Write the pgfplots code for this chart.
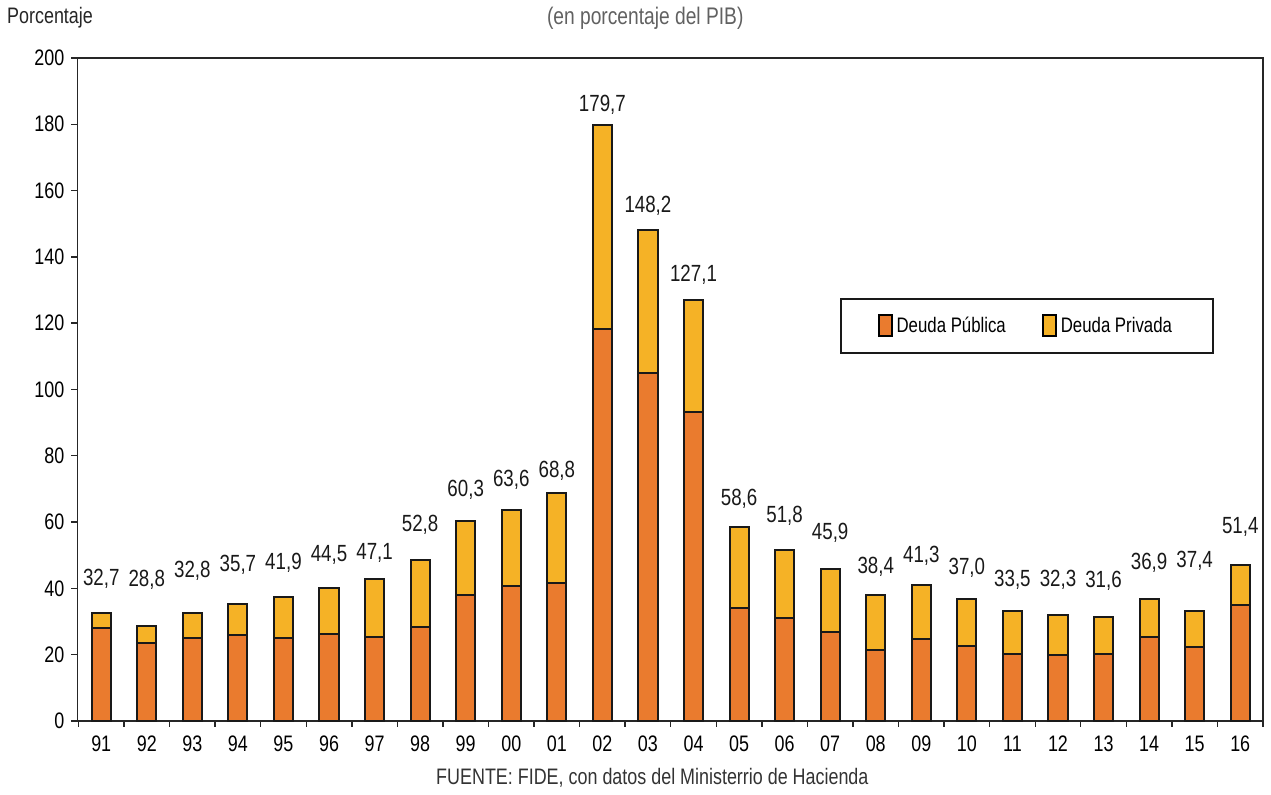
\documentclass[border=0pt]{standalone}
\usepackage{fontspec}
\setmainfont{Liberation Sans}[FakeStretch=0.8]
\usepackage{pgfplots}
\pgfplotsset{compat=1.18}
\usepackage{pgfplotstable}
\definecolor{pub}{RGB}{234,123,46}
\definecolor{priv}{RGB}{245,178,38}
\definecolor{edge}{RGB}{25,25,25}

\pgfplotstableread{
x pub priv
0 28.2 4.3
1 23.5 5.1
2 25.0 7.6
3 25.8 9.6
4 25.1 12.4
5 26.3 13.8
6 25.4 17.4
7 28.5 20.0
8 37.9 22.3
9 40.6 23.0
10 41.7 27.1
11 118.1 61.6
12 104.9 43.3
13 93.3 33.8
14 34.0 24.5
15 31.0 20.6
16 26.8 18.9
17 21.3 16.8
18 24.7 16.3
19 22.7 14.1
20 20.3 12.9
21 19.9 12.1
22 20.3 11.1
23 25.3 11.4
24 22.2 11.0
25 35.0 12.0
}\debt

\pgfplotstableread{
x y lab
0 42.8 32,7
1 42.5 28,8
2 45.3 32,8
3 47.1 35,7
4 47.6 41,9
5 50.1 44,5
6 50.6 47,1
7 59.3 52,8
8 69.7 60,3
9 72.6 63,6
10 75.6 68,8
11 185.8 179,7
12 155.3 148,2
13 134.7 127,1
14 66.9 58,6
15 61.8 51,8
16 56.8 45,9
17 46.4 38,4
18 49.8 41,3
19 46.1 37,0
20 42.7 33,5
21 42.5 32,3
22 42.3 31,6
23 47.8 36,9
24 48.3 37,4
25 58.4 51,4
}\labs

\newcommand{\chartfont}{\fontsize{11.2bp}{13bp}\selectfont}
\newcommand{\labfont}{\fontsize{11.7bp}{13bp}\selectfont}
\newcommand{\titlefont}{\fontsize{12bp}{14bp}\selectfont}
\newcommand{\legfont}{\fontsize{10.5bp}{12bp}\selectfont}

\pgfplotsset{base/.style={scale only axis, width=592.85bp, height=331.5bp,
  xmin=-0.525, xmax=25.5, ymin=0, ymax=200}}

\begin{document}
\begin{tikzpicture}
\begin{axis}[base, name=ax, clip=false,
  ybar stacked, bar width=0.42,
  ytick={0,20,...,200},
  xtick={0,...,25},
  xticklabels={91,92,93,94,95,96,97,98,99,00,01,02,03,04,05,06,07,08,09,10,11,12,13,14,15,16},
  minor xtick={-0.5,0.5,...,25.5},
  tick align=outside, tick pos=left,
  major tick length=3bp, minor tick length=3bp,
  major x tick style={draw=none},
  every tick/.style={black!85, line width=0.7bp},
  minor x tick style={black!85, line width=0.7bp},
  axis line style={black!85, line width=0.75bp},
  /pgf/number format/assume math mode=true,
  ticklabel style={font=\chartfont},
  xticklabel style={yshift=-1bp},
  legend columns=2,
  legend style={at={(rel axis cs:0.643,0.638)}, anchor=north west,
    draw=black!90, line width=0.9bp, font=\legfont,
    inner xsep=18.5bp, inner ysep=7bp,
    /tikz/every even column/.append style={column sep=16bp}},
  legend image code/.code={\draw[#1, draw=black, line width=1bp] (0bp,-5bp) rectangle (6.5bp,5.5bp);},
]
\addplot[fill=pub, draw=edge, line width=1bp] table[x=x, y=pub] {\debt};
\addplot[fill=priv, draw=edge, line width=1bp] table[x=x, y=priv] {\debt};
\legend{Deuda Pública, Deuda Privada}
\node[font=\titlefont, text=black!62] at (rel axis cs:0.479,1) [yshift=20bp] {(en porcentaje del PIB)};
\node[font=\chartfont, text=black!85] at (rel axis cs:-0.023,1) [yshift=20bp] {Porcentaje};
\node[font=\chartfont, text=black!80] at (rel axis cs:0.485,0) [yshift=-28.5bp] {FUENTE: FIDE, con datos del Ministerrio de Hacienda};
\end{axis}
\begin{axis}[base, hide axis]
\addplot[draw=none, mark=none, nodes near coords, point meta=explicit symbolic,
  every node near coord/.append style={anchor=center, font=\labfont, text=black!90, inner sep=0pt}]
  table[x=x, y=y, meta=lab] {\labs};
\end{axis}
\path ([xshift=-38.65bp,yshift=-34bp]ax.south west) rectangle ([xshift=4bp,yshift=29bp]ax.north east);
\end{tikzpicture}
\end{document}
